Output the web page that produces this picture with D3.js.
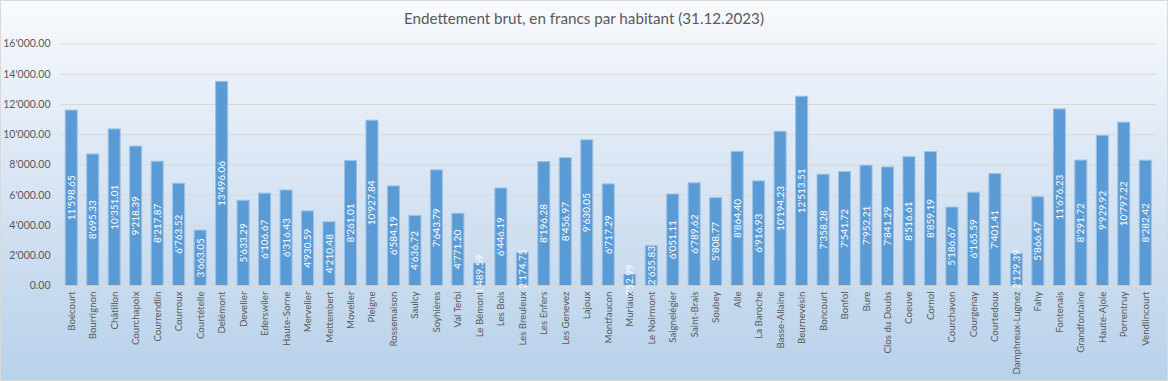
<!DOCTYPE html>
<html><head><meta charset="utf-8">
<script src="https://cdn.jsdelivr.net/npm/d3@7"></script>
<style>
html,body{margin:0;padding:0;background:#fff;}
svg{display:block;font-family:Lato,"Open Sans",sans-serif;}
</style></head>
<body>
<svg id="chart" width="1168" height="381"></svg>
<script>
const communes = ["Boécourt","Bourrignon","Châtillon","Courchapoix","Courrendlin","Courroux","Courtételle","Delémont","Develier","Ederswiler","Haute-Sorne","Mervelier","Mettembert","Movelier","Pleigne","Rossemaison","Saulcy","Soyhières","Val Terbi","Le Bémont","Les Bois","Les Breuleux","Les Enfers","Les Genevez","Lajoux","Montfaucon","Muriaux","Le Noirmont","Saignelégier","Saint-Brais","Soubey","Alle","La Baroche","Basse-Allaine","Beurnevésin","Boncourt","Bonfol","Bure","Clos du Doubs","Coeuve","Cornol","Courchavon","Courgenay","Courtedoux","Damphreux-Lugnez","Fahy","Fontenais","Grandfontaine","Haute-Ajoie","Porrentruy","Vendlincourt"];
const dette = [11598.65,8695.33,10351.01,9218.39,8217.87,6763.52,3663.05,13496.06,5633.29,6106.67,6316.43,4930.59,4210.48,8261.01,10927.84,6584.19,4636.72,7643.79,4771.20,1489.59,6446.19,2174.75,8196.28,8456.97,9630.05,6717.29,752.99,2635.83,6051.11,6789.62,5808.77,8864.40,6916.93,10194.23,12513.51,7358.28,7541.72,7952.21,7841.29,8516.61,8859.19,5186.67,6165.59,7401.41,2129.39,5866.47,11676.23,8291.72,9929.92,10797.22,8282.42];
const yTicks = [0,2000,4000,6000,8000,10000,12000,14000,16000];
const chartTitle = "Endettement brut, en francs par habitant (31.12.2023)";

(function(){
const W = 1168, H = 381;
const svg = d3.select("#chart");
const defs = svg.append("defs");
const grad = defs.append("linearGradient").attr("id","bg").attr("x1",0).attr("y1",0).attr("x2",0).attr("y2",1);
grad.append("stop").attr("offset","0%").attr("stop-color","#f8fafd");
grad.append("stop").attr("offset","40%").attr("stop-color","#dde8f5");
grad.append("stop").attr("offset","100%").attr("stop-color","#b8d1ea");
svg.append("rect").attr("x",0.5).attr("y",0.5).attr("width",W-1).attr("height",H-1)
  .attr("fill","url(#bg)").attr("stroke","#d9d9d9");

const loc = d3.formatLocale({decimal:".",thousands:"'",grouping:[3],currency:["",""]});
const fmt = loc.format(",.2f");

const pL = 60.5, pR = 1156, pT = 43.5, pB = 285.5;
const x = d3.scaleBand().domain(communes).range([pL,pR]).paddingInner(0.44).paddingOuter(0.22);
const y = d3.scaleLinear().domain([0,16000]).range([pB,pT]);

svg.append("text").attr("x",584).attr("y",24).attr("text-anchor","middle")
  .attr("font-size",15.2).attr("fill","#595959").text(chartTitle);

const gy = svg.append("g").attr("transform",`translate(${pL},0)`)
  .call(d3.axisLeft(y).tickValues(yTicks).tickSize(-(pR-pL)).tickFormat(fmt).tickPadding(10));
gy.select(".domain").remove();
gy.selectAll(".tick line").attr("stroke","#d9d9d9").attr("stroke-width",1);
gy.selectAll(".tick text").attr("font-size",10.5).attr("fill","#595959").attr("font-family","Lato, sans-serif");

svg.append("g").selectAll("rect").data(communes).join("rect")
  .attr("x",d=>x(d)).attr("width",x.bandwidth())
  .attr("y",(d,i)=>y(dette[i])).attr("height",(d,i)=>y(0)-y(dette[i]))
  .attr("fill","#5b9bd5").attr("stroke","#9cc2e5").attr("stroke-width",1);

const gx = svg.append("g").attr("transform",`translate(0,${pB})`)
  .call(d3.axisBottom(x).tickSize(0).tickPadding(0));
gx.select(".domain").attr("stroke","#d9d9d9");
gx.selectAll(".tick text").attr("font-size",9.7).attr("fill","#595959").attr("font-family","Lato, sans-serif")
  .attr("text-anchor","end").attr("dy",null).attr("y",null)
  .attr("transform","translate(3.5,6) rotate(-90)");

svg.append("g").selectAll("line").data(d3.range(communes.length+1)).join("line")
  .attr("x1",i=>Math.round(pL + i*(pR-pL)/communes.length)+0.5)
  .attr("x2",i=>Math.round(pL + i*(pR-pL)/communes.length)+0.5)
  .attr("y1",pB).attr("y2",pB+5).attr("stroke","#d9d9d9");

svg.append("g").selectAll("text").data(communes).join("text")
  .attr("transform",(d,i)=>`translate(${x(d)+x.bandwidth()/2+3.5},${(y(0)+y(dette[i]))/2}) rotate(-90)`)
  .attr("text-anchor","middle").attr("font-size",10).attr("fill","#ffffff")
  .text((d,i)=>fmt(dette[i]));
})();
</script>
</body></html>
